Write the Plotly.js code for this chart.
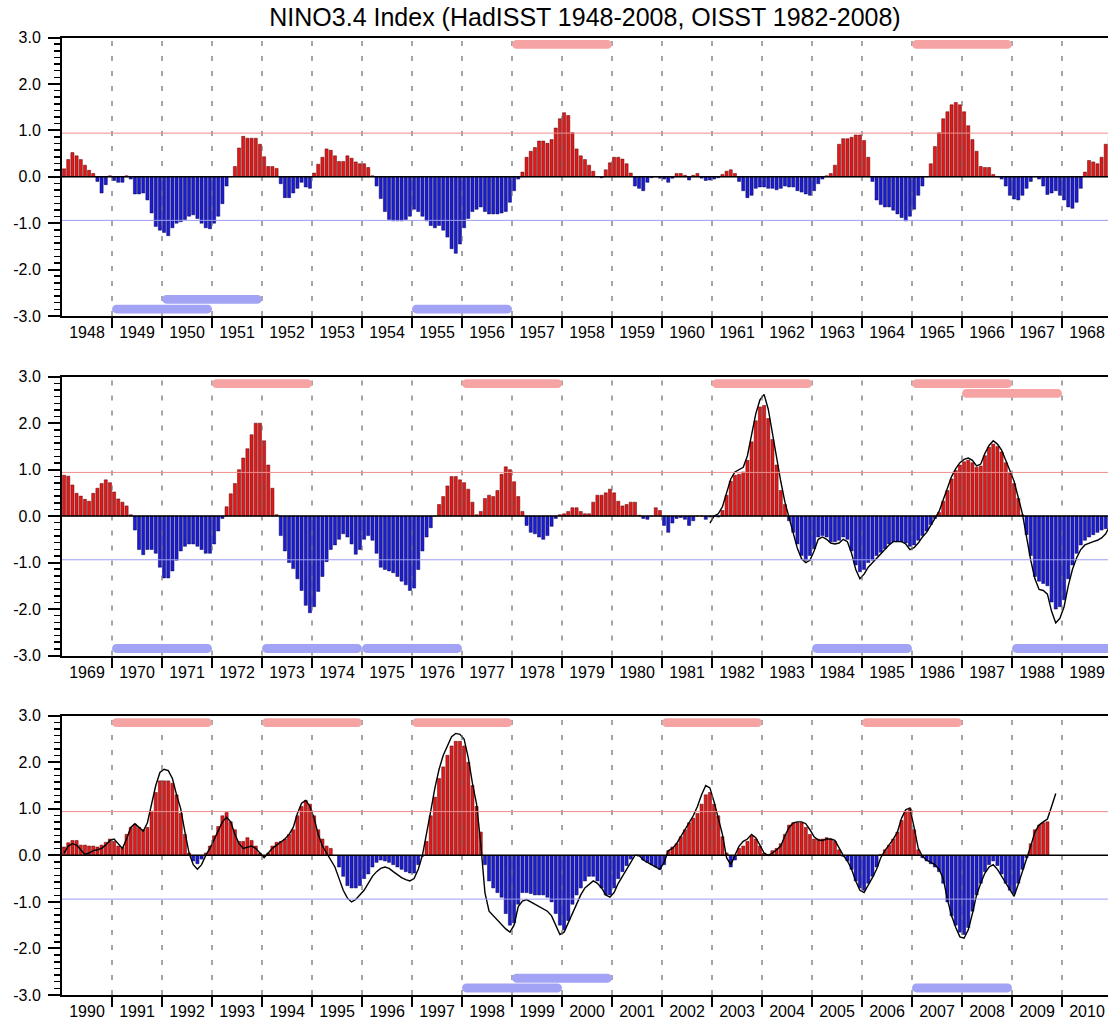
<!DOCTYPE html>
<html>
<head>
<meta charset="utf-8">
<script src="https://cdn.plot.ly/plotly-3.0.1.min.js"></script>
<style>html,body{margin:0;padding:0;background:#fff}#chart{width:1108px;height:1022px}</style>
</head>
<body>
<div id="chart"></div>
<script>
// ---------------- DATA ----------------
const chartTitle = 'NINO3.4 Index (HadISST 1948-2008, OISST 1982-2008)';
const panelStartYears = [1948, 1969, 1990];

// HadISST monthly Nino3.4 anomaly, Jan 1948 - Dec 1968
const hadisst1948_1968 = [
 0.17,0.37,0.52,0.45,0.37,0.25,0.14,0.07,-0.10,-0.35,-0.17,0.02,
 -0.08,-0.12,-0.12,0.02,-0.05,-0.37,-0.37,-0.35,-0.50,-0.78,-1.07,-1.15,
 -1.20,-1.27,-1.10,-1.00,-0.97,-0.92,-0.85,-0.82,-0.90,-1.00,-1.10,-1.12,
 -1.00,-0.85,-0.58,-0.20,0.00,0.22,0.62,0.87,0.83,0.83,0.83,0.70,
 0.43,0.22,0.22,0.18,-0.15,-0.45,-0.45,-0.35,-0.25,-0.12,-0.22,-0.25,
 0.08,0.27,0.42,0.60,0.57,0.45,0.33,0.33,0.45,0.40,0.32,0.28,
 0.28,0.20,0.02,-0.20,-0.47,-0.75,-0.92,-0.95,-0.95,-0.95,-0.92,-0.85,
 -0.70,-0.75,-0.85,-0.95,-1.05,-1.10,-1.05,-1.15,-1.30,-1.55,-1.65,-1.45,
 -1.10,-0.90,-0.75,-0.70,-0.65,-0.75,-0.80,-0.80,-0.80,-0.78,-0.75,-0.55,
 -0.30,-0.05,0.10,0.42,0.55,0.63,0.77,0.77,0.72,0.80,1.05,1.25,
 1.38,1.32,0.95,0.60,0.45,0.37,0.25,0.12,0.00,-0.02,0.15,0.30,
 0.42,0.42,0.38,0.28,0.08,-0.20,-0.25,-0.30,-0.12,-0.02,0.00,-0.03,
 -0.05,-0.12,-0.03,0.07,0.07,0.03,-0.07,0.03,0.07,-0.03,-0.08,-0.07,
 -0.05,-0.02,0.05,0.12,0.15,0.07,-0.10,-0.30,-0.45,-0.40,-0.25,-0.22,
 -0.22,-0.25,-0.25,-0.28,-0.25,-0.20,-0.22,-0.22,-0.30,-0.33,-0.37,-0.40,
 -0.30,-0.15,-0.05,0.02,0.07,0.25,0.70,0.82,0.82,0.85,0.90,0.90,
 0.78,0.42,-0.10,-0.50,-0.60,-0.65,-0.65,-0.72,-0.80,-0.88,-0.95,-0.85,
 -0.70,-0.40,-0.20,0.00,0.28,0.65,0.95,1.25,1.40,1.55,1.60,1.55,
 1.40,1.10,0.80,0.55,0.22,0.20,0.20,0.05,0.00,-0.05,-0.20,-0.40,
 -0.48,-0.50,-0.40,-0.25,-0.10,0.00,-0.05,-0.20,-0.38,-0.35,-0.30,-0.40,
 -0.50,-0.65,-0.68,-0.55,-0.25,0.10,0.35,0.32,0.28,0.42,0.70,0.85
];

// HadISST, Jan 1969 - Dec 1989
const hadisst1969_1989 = [
 0.88,0.86,0.67,0.49,0.43,0.36,0.32,0.49,0.60,0.70,0.78,0.72,
 0.52,0.37,0.30,0.22,0.03,-0.30,-0.72,-0.83,-0.72,-0.72,-0.80,-1.10,
 -1.33,-1.33,-1.18,-0.95,-0.75,-0.65,-0.60,-0.60,-0.65,-0.72,-0.80,-0.80,
 -0.60,-0.32,-0.05,0.20,0.48,0.70,1.00,1.25,1.45,1.75,2.00,2.00,
 1.62,1.10,0.60,0.03,-0.42,-0.75,-1.00,-1.13,-1.35,-1.60,-1.92,-2.08,
 -1.95,-1.62,-1.30,-0.98,-0.72,-0.62,-0.50,-0.38,-0.45,-0.60,-0.82,-0.72,
 -0.50,-0.42,-0.52,-0.80,-1.10,-1.15,-1.18,-1.22,-1.30,-1.40,-1.48,-1.60,
 -1.55,-1.15,-0.75,-0.45,-0.25,0.00,0.25,0.42,0.65,0.85,0.85,0.78,
 0.72,0.58,0.30,0.03,0.10,0.38,0.45,0.42,0.55,0.90,1.06,1.00,
 0.74,0.42,0.10,-0.20,-0.35,-0.38,-0.45,-0.50,-0.42,-0.22,-0.05,0.03,
 0.05,0.10,0.18,0.18,0.10,0.05,0.05,0.30,0.45,0.45,0.50,0.58,
 0.50,0.32,0.22,0.25,0.30,0.30,0.02,-0.05,-0.07,0.00,0.18,0.12,
 -0.20,-0.35,-0.15,-0.05,-0.03,-0.07,-0.20,-0.10,0.00,0.00,-0.07,-0.02,
 0.00,-0.02,0.12,0.45,0.75,0.88,0.90,0.95,1.20,1.60,2.05,2.35,
 2.38,2.10,1.65,1.10,0.55,0.25,-0.10,-0.35,-0.60,-0.85,-0.95,-0.85,
 -0.70,-0.45,-0.42,-0.45,-0.55,-0.55,-0.52,-0.45,-0.50,-0.75,-1.05,-1.20,
 -1.15,-1.00,-0.95,-0.85,-0.78,-0.70,-0.60,-0.55,-0.55,-0.55,-0.58,-0.65,
 -0.62,-0.52,-0.42,-0.32,-0.18,-0.05,0.08,0.32,0.55,0.80,0.98,1.10,
 1.17,1.20,1.15,1.05,1.08,1.30,1.48,1.55,1.50,1.38,1.15,0.92,
 0.70,0.38,0.03,-0.40,-0.85,-1.30,-1.40,-1.45,-1.50,-1.85,-2.00,-1.95,
 -1.80,-1.35,-1.05,-0.80,-0.62,-0.52,-0.45,-0.40,-0.35,-0.30,-0.27,-0.20
];

// HadISST, Jan 1990 - Sep 2009
const hadisst1990_2009 = [
 0.18,0.27,0.32,0.32,0.22,0.22,0.20,0.20,0.18,0.22,0.28,0.35,
 0.30,0.20,0.17,0.45,0.60,0.67,0.60,0.55,0.60,0.95,1.35,1.60,
 1.60,1.60,1.55,1.30,0.90,0.45,0.05,-0.12,-0.18,-0.08,0.05,0.20,
 0.42,0.62,0.85,0.92,0.72,0.55,0.30,0.30,0.38,0.32,0.20,0.05,
 -0.02,0.05,0.20,0.28,0.30,0.35,0.45,0.55,0.85,1.05,1.18,1.10,
 0.85,0.55,0.35,0.20,0.15,0.00,-0.25,-0.45,-0.65,-0.70,-0.70,-0.65,
 -0.50,-0.40,-0.25,-0.15,-0.10,-0.12,-0.15,-0.20,-0.25,-0.30,-0.35,-0.38,
 -0.38,-0.20,-0.02,0.30,0.85,1.25,1.65,1.90,2.15,2.35,2.45,2.45,
 2.35,2.00,1.50,1.05,0.50,-0.20,-0.55,-0.70,-0.80,-0.90,-1.25,-1.50,
 -1.45,-1.05,-0.80,-0.80,-0.82,-0.85,-0.85,-0.85,-0.90,-1.00,-1.25,-1.50,
 -1.60,-1.40,-1.05,-0.85,-0.70,-0.55,-0.45,-0.45,-0.55,-0.70,-0.85,-0.85,
 -0.70,-0.50,-0.35,-0.22,-0.08,0.00,-0.02,-0.10,-0.15,-0.20,-0.25,-0.30,
 -0.20,0.10,0.18,0.25,0.40,0.55,0.70,0.80,0.90,1.10,1.30,1.35,
 1.10,0.85,0.40,0.05,-0.25,-0.10,0.15,0.20,0.30,0.42,0.35,0.20,
 0.05,0.02,0.10,0.15,0.25,0.45,0.65,0.70,0.70,0.70,0.60,0.45,
 0.35,0.35,0.35,0.38,0.35,0.30,0.12,-0.02,-0.12,-0.30,-0.55,-0.70,
 -0.75,-0.60,-0.45,-0.25,0.02,0.12,0.22,0.35,0.50,0.75,0.95,1.00,
 0.55,0.12,-0.05,-0.12,-0.18,-0.25,-0.35,-0.60,-1.00,-1.30,-1.50,-1.65,
 -1.70,-1.55,-1.20,-0.85,-0.60,-0.35,-0.20,-0.12,-0.22,-0.40,-0.60,-0.75,
 -0.82,-0.60,-0.30,-0.05,0.25,0.55,0.65,0.70,0.72
];

// OISST, Dec 1981 - Dec 1989
const oisst1981_1989 = [
 -0.15,
 0.00,0.05,0.20,0.50,0.80,0.95,1.00,1.05,1.30,1.75,2.20,2.50,
 2.62,2.30,1.75,1.20,0.75,0.30,-0.05,-0.40,-0.70,-0.92,-1.00,-0.95,
 -0.75,-0.50,-0.45,-0.50,-0.58,-0.60,-0.58,-0.50,-0.55,-0.80,-1.15,-1.35,
 -1.25,-1.10,-1.00,-0.90,-0.80,-0.72,-0.62,-0.55,-0.55,-0.55,-0.60,-0.72,
 -0.68,-0.58,-0.45,-0.35,-0.20,-0.05,0.10,0.35,0.60,0.85,1.02,1.15,
 1.22,1.25,1.20,1.08,1.12,1.35,1.52,1.62,1.55,1.42,1.20,0.98,
 0.75,0.40,0.05,-0.45,-0.95,-1.35,-1.58,-1.60,-1.68,-2.05,-2.30,-2.20,
 -1.95,-1.50,-1.15,-0.90,-0.72,-0.62,-0.58,-0.55,-0.52,-0.47,-0.38,-0.20
];
const oisst1981Start = {year: 1981, month: 12};

// OISST, Jan 1990 - Nov 2009
const oisst1990_2009 = [
 0.05,0.20,0.25,0.22,0.12,0.02,0.05,0.10,0.12,0.15,0.22,0.32,
 0.35,0.25,0.15,0.35,0.60,0.68,0.60,0.52,0.70,1.10,1.50,1.78,
 1.85,1.82,1.65,1.30,1.00,0.50,0.05,-0.20,-0.30,-0.20,0.00,0.15,
 0.35,0.55,0.72,0.82,0.72,0.45,0.25,0.15,0.18,0.20,0.15,0.05,
 -0.05,0.05,0.15,0.22,0.28,0.35,0.45,0.60,0.90,1.12,1.18,1.05,
 0.80,0.45,0.20,0.05,-0.10,-0.25,-0.50,-0.75,-0.92,-1.00,-0.95,-0.85,
 -0.75,-0.60,-0.45,-0.35,-0.28,-0.25,-0.28,-0.35,-0.42,-0.48,-0.52,-0.55,
 -0.50,-0.30,0.00,0.45,0.95,1.45,1.85,2.15,2.35,2.55,2.62,2.60,
 2.50,2.10,1.55,1.10,0.25,-0.80,-1.20,-1.30,-1.38,-1.50,-1.58,-1.65,
 -1.50,-1.10,-0.98,-0.95,-1.00,-1.05,-1.10,-1.15,-1.20,-1.30,-1.50,-1.70,
 -1.65,-1.45,-1.25,-1.05,-0.85,-0.70,-0.62,-0.55,-0.60,-0.70,-0.85,-0.90,
 -0.80,-0.60,-0.45,-0.30,-0.15,0.00,0.00,-0.10,-0.15,-0.20,-0.25,-0.30,
 -0.15,0.10,0.15,0.25,0.40,0.55,0.70,0.85,1.05,1.30,1.50,1.45,
 1.15,0.80,0.45,-0.05,-0.20,0.00,0.20,0.30,0.35,0.45,0.38,0.22,
 0.05,0.00,0.05,0.12,0.20,0.42,0.60,0.70,0.72,0.72,0.68,0.55,
 0.40,0.33,0.32,0.35,0.35,0.32,0.15,0.00,-0.12,-0.30,-0.55,-0.75,
 -0.80,-0.65,-0.48,-0.30,-0.05,0.10,0.22,0.35,0.50,0.80,0.98,1.02,
 0.60,0.15,-0.02,-0.10,-0.15,-0.20,-0.30,-0.50,-0.95,-1.30,-1.55,-1.75,
 -1.78,-1.60,-1.25,-0.85,-0.60,-0.38,-0.25,-0.20,-0.30,-0.45,-0.60,-0.75,
 -0.88,-0.62,-0.35,-0.10,0.20,0.50,0.65,0.72,0.78,1.05,1.33
];
const oisst1990Start = {year: 1990, month: 1};

// +/- one standard deviation reference lines
const sigmaValue = 0.94;

// ENSO event bars (years)
const warmStart = [1957, 1965, 1972, 1977, 1982, 1986, 1987, 1991, 1994, 1997, 2002, 2006];
const warmEnd   = [1959, 1967, 1974, 1979, 1984, 1988, 1989, 1993, 1996, 1999, 2004, 2008];
const warmRow   = [0, 0, 0, 0, 0, 0, 1, 0, 0, 0, 0, 0];
const coldStart = [1949, 1950, 1955, 1970, 1973, 1975, 1984, 1988, 1998, 1999, 2007];
const coldEnd   = [1951, 1952, 1957, 1972, 1975, 1977, 1986, 1990, 2000, 2001, 2009];
const coldRow   = [0, 1, 0, 0, 0, 0, 0, 0, 0, 1, 0];

const yTickVals = [-3, -2, -1, 0, 1, 2, 3];
const yTickText = ['-3.0', '-2.0', '-1.0', '0.0', '1.0', '2.0', '3.0'];

// ---------------- STYLE / LAYOUT ----------------
const W = 1108, H = 1022;
const plotLeft = 62;
const pxPerYear = 50;
const visibleSpan = (W - plotLeft) / pxPerYear;   // 20.92 years
const panelPix = [[37.5, 316], [376.7, 655.5], [715.7, 995]];
const FONT = 'Liberation Sans, Arial, Helvetica, sans-serif';
const RED = '#e01a1a', RED_EDGE = '#5a0000';
const BLUE = '#1c1cd0', BLUE_EDGE = '#000055';
const PINK = '#f6a3a3', LBLUE = '#a3a3f6';
const rowY = [2.85, 2.64];
const barHalf = 0.095;      // data units (y)
const capX = 0.09;          // data units (x)

const hadPanels = [hadisst1948_1968, hadisst1969_1989, hadisst1990_2009];
const oisstSeries = [
  {vals: oisst1981_1989, start: oisst1981Start},
  {vals: oisst1990_2009, start: oisst1990Start}
];

function monthTime(y, mIndex) { return y + (mIndex + 0.5) / 12; }

const traces = [];
const shapes = [];
const layout = {
  width: W, height: H,
  margin: {l: plotLeft, r: 0, t: 0, b: 0},
  paper_bgcolor: '#fff', plot_bgcolor: '#fff',
  showlegend: false,
  bargap: 0,
  font: {family: FONT, color: '#000'},
  title: {
    text: chartTitle,
    font: {family: FONT, size: 25, color: '#000'},
    x: 0.5, xref: 'paper', xanchor: 'center',
    y: 1 - 17 / H, yref: 'container', yanchor: 'middle'
  },
  shapes: shapes
};

function roundBarPath(x0, x1, yc, rx, ry) {
  const k = 0.5523;
  return 'M' + (x0 + rx) + ',' + (yc - ry) +
    ' L' + (x1 - rx) + ',' + (yc - ry) +
    ' C' + (x1 - rx + k * rx) + ',' + (yc - ry) + ' ' + x1 + ',' + (yc - k * ry) + ' ' + x1 + ',' + yc +
    ' C' + x1 + ',' + (yc + k * ry) + ' ' + (x1 - rx + k * rx) + ',' + (yc + ry) + ' ' + (x1 - rx) + ',' + (yc + ry) +
    ' L' + (x0 + rx) + ',' + (yc + ry) +
    ' C' + (x0 + rx - k * rx) + ',' + (yc + ry) + ' ' + x0 + ',' + (yc + k * ry) + ' ' + x0 + ',' + yc +
    ' C' + x0 + ',' + (yc - k * ry) + ' ' + (x0 + rx - k * rx) + ',' + (yc - ry) + ' ' + (x0 + rx) + ',' + (yc - ry) + ' Z';
}

panelStartYears.forEach((y0, p) => {
  const s = p === 0 ? '' : String(p + 1);
  const xa = 'x' + s, ya = 'y' + s;
  const y1 = y0 + 21;
  const vals = hadPanels[p];

  // bars
  traces.push({
    type: 'bar', xaxis: xa, yaxis: ya,
    x: vals.map((v, k) => y0 + (k + 0.5) / 12),
    y: vals,
    width: 0.062,
    marker: {
      color: vals.map(v => v >= 0 ? RED : BLUE),
      line: {color: vals.map(v => v >= 0 ? RED_EDGE : BLUE_EDGE), width: 0.5}
    },
    hoverinfo: 'x+y'
  });

  // OISST line(s)
  oisstSeries.forEach(ser => {
    const xs = [], ys = [];
    ser.vals.forEach((v, k) => {
      const t = monthTime(ser.start.year, ser.start.month - 1 + k);
      if (t >= y0 && t < y1) { xs.push(t); ys.push(v); }
    });
    if (xs.length) {
      traces.push({
        type: 'scatter', mode: 'lines', xaxis: xa, yaxis: ya,
        x: xs, y: ys, line: {color: '#000', width: 1.4}, hoverinfo: 'x+y'
      });
    }
  });

  const years = [];
  for (let y = y0; y < y1; y++) years.push(y);
  const bounds = years.slice(1);

  layout['xaxis' + s] = {
    domain: [0, 1], anchor: ya,
    range: [y0, y0 + visibleSpan],
    tickmode: 'array',
    tickvals: years.map(y => y + 0.5),
    ticktext: years.map(String),
    ticks: 'outside', ticklen: 1, tickcolor: 'rgba(0,0,0,0)',
    tickfont: {family: FONT, size: 16, color: '#000'},
    showline: true, linecolor: '#000', linewidth: 2, mirror: true,
    showgrid: false, zeroline: false, automargin: false, fixedrange: true,
    minor: {tickmode: 'array', tickvals: bounds, ticks: 'outside', ticklen: 10,
            tickwidth: 2, tickcolor: '#000', showgrid: false}
  };
  layout['yaxis' + s] = {
    domain: [1 - panelPix[p][1] / H, 1 - panelPix[p][0] / H], anchor: xa,
    range: [-3, 3],
    tickmode: 'array', tickvals: yTickVals, ticktext: yTickText,
    ticks: 'outside', ticklen: 12, tickwidth: 2, tickcolor: '#000',
    tickfont: {family: FONT, size: 16, color: '#000'},
    ticklabelstandoff: 4,
    showline: true, linecolor: '#000', linewidth: 2, mirror: false,
    showgrid: false, zeroline: false, automargin: false, fixedrange: true,
    minor: {tickmode: 'linear', tick0: -3, dtick: 1 / 7, ticks: 'outside',
            ticklen: 6, tickwidth: 1.5, tickcolor: '#000', showgrid: false}
  };

  // dashed year lines
  bounds.forEach(b => shapes.push({
    type: 'line', xref: xa, yref: ya + ' domain', x0: b, x1: b, y0: 0, y1: 1,
    line: {color: '#6a6a6a', width: 1.2, dash: '5px,10px'}, layer: 'above'
  }));
  // sigma lines
  shapes.push({type: 'line', xref: xa, yref: ya, x0: y0, x1: y1, y0: sigmaValue, y1: sigmaValue,
    line: {color: '#f28c8c', width: 1}, layer: 'above'});
  shapes.push({type: 'line', xref: xa, yref: ya, x0: y0, x1: y1, y0: -sigmaValue, y1: -sigmaValue,
    line: {color: '#9d9df2', width: 1}, layer: 'above'});
  // zero line
  shapes.push({type: 'line', xref: xa, yref: ya, x0: y0, x1: y1, y0: 0, y1: 0,
    line: {color: '#000', width: 1.5}, layer: 'above'});

  // ENSO event bars
  warmStart.forEach((a, i) => {
    const b = warmEnd[i];
    if (b > y0 && a < y1) shapes.push({
      type: 'path', xref: xa, yref: ya,
      path: roundBarPath(a, b, rowY[warmRow[i]], capX, barHalf),
      fillcolor: PINK, line: {width: 0}, layer: 'above'
    });
  });
  coldStart.forEach((a, i) => {
    const b = coldEnd[i];
    if (b > y0 && a < y1) shapes.push({
      type: 'path', xref: xa, yref: ya,
      path: roundBarPath(a, b, -rowY[coldRow[i]], capX, barHalf),
      fillcolor: LBLUE, line: {width: 0}, layer: 'above'
    });
  });
});

Plotly.newPlot('chart', traces, layout, {staticPlot: true, displayModeBar: false});
</script>
</body>
</html>
